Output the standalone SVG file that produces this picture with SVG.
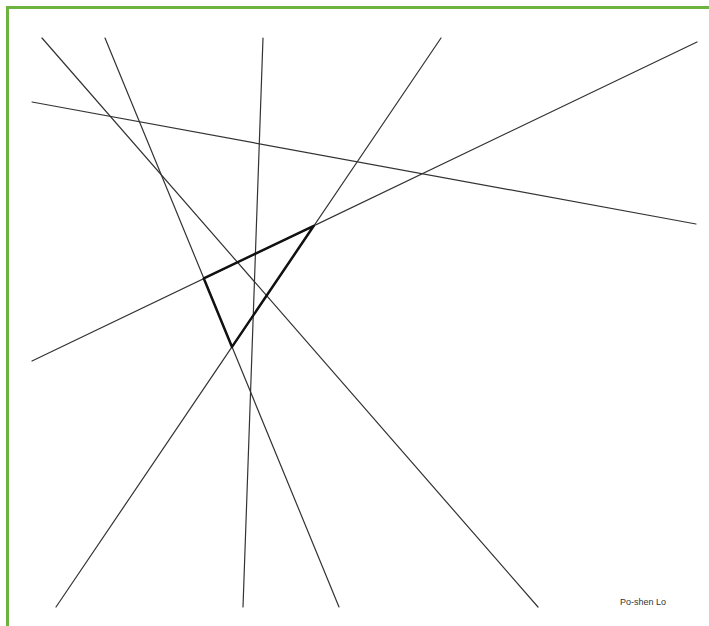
<svg xmlns="http://www.w3.org/2000/svg" width="709" height="626" viewBox="0 0 709 626">
<style>
.ln{stroke:#333;stroke-width:1.2;fill:none;stroke-linecap:round}
.tri{stroke:#111;stroke-width:2.5;fill:none;stroke-linejoin:round}
.frame{stroke:#6db33f;stroke-width:3;fill:none}
.lbl{font-family:"Liberation Sans",Arial,sans-serif;font-size:9px;fill:#333}
</style>
<rect width="709" height="626" fill="#fff"/>
<path class="frame" d="M7.5,626 L7.5,7.5 L709,7.5"/>
<g id="connectors">
<line class="ln" x1="42" y1="38" x2="538" y2="607"/>
<line class="ln" x1="105" y1="38" x2="339" y2="607"/>
<line class="ln" x1="263" y1="38" x2="243" y2="607"/>
<line class="ln" x1="441" y1="38" x2="56" y2="607"/>
<line class="ln" x1="697" y1="42" x2="32" y2="361"/>
<line class="ln" x1="32" y1="102" x2="696" y2="224"/>
</g>
<g id="triangle">
<polygon class="tri" points="203.8,278.4 313.8,225.8 232,346.9"/>
</g>
<g id="credit">
<text class="lbl" x="620" y="605">Po-shen Lo</text>
</g>
</svg>
